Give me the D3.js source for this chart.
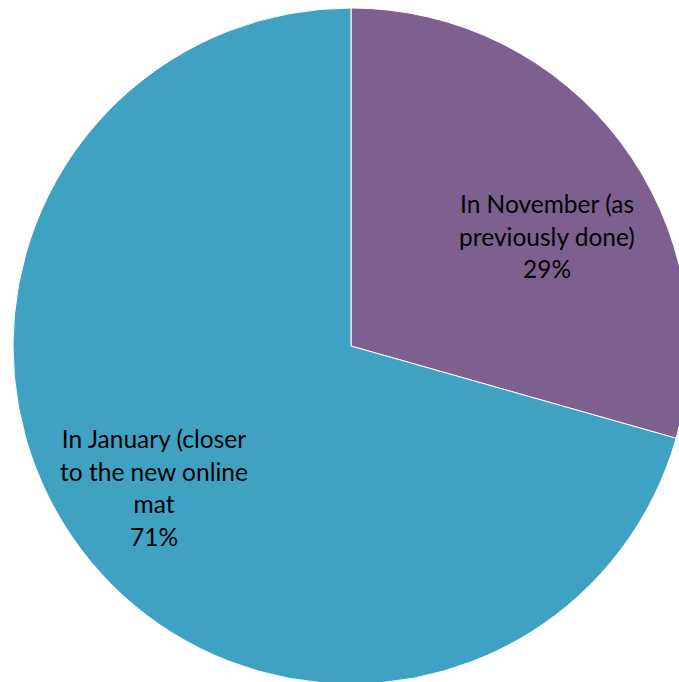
<!DOCTYPE html>
<html><head><meta charset="utf-8">
<script src="https://cdn.jsdelivr.net/npm/d3@7"></script>
<style>html,body{margin:0;padding:0;background:#fff;}svg{display:block;}</style>
</head><body>
<svg id="c" width="679" height="682"></svg>
<script>
const categories = ["In November (as previously done)", "In January (closer to the new online mat"];
const values = [29.4, 70.6];
const labelLines = [["In November (as", "previously done)"], ["In January (closer", "to the new online", "mat"]];
const colors = ["#7D6090", "#3FA2C2"];

const svg = d3.select("#c");
const cx = 351, cy = 346, r = 338;
const g = svg.append("g").attr("transform", `translate(${cx},${cy})`);
const pie = d3.pie().sort(null).value(d => d);
const arcs = pie(values);
const arc = d3.arc().innerRadius(0).outerRadius(r);
g.selectAll("path").data(arcs).enter().append("path")
  .attr("d", arc).attr("fill", (d, i) => colors[i])
  .attr("stroke", "#fff").attr("stroke-width", 1);

const total = d3.sum(values);
const labelPos = [[196, -133], [-197, 102]];
const lh = 32.5;
arcs.forEach((a, i) => {
  const lines = labelLines[i].concat([Math.round(values[i] / total * 100) + "%"]);
  const t = g.append("text").attr("text-anchor", "middle")
    .attr("font-family", "Lato, 'Open Sans', sans-serif").attr("font-size", 24.5).attr("fill", "#000");
  lines.forEach((l, j) => {
    t.append("tspan").attr("x", labelPos[i][0]).attr("y", labelPos[i][1] + j * lh).text(l);
  });
});
</script>
</body></html>
